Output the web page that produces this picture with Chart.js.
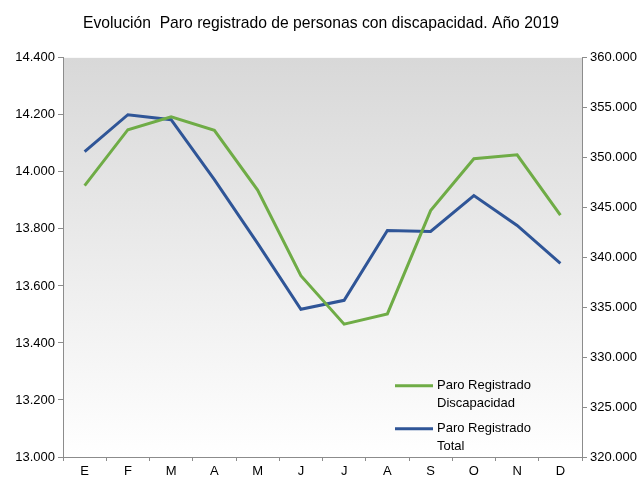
<!DOCTYPE html>
<html>
<head>
<meta charset="utf-8">
<script src="https://cdn.jsdelivr.net/npm/chart.js@4/dist/chart.umd.min.js"></script>
<style>
  html, body { margin: 0; padding: 0; background: #ffffff; }
  #wrap { width: 642px; height: 478px; position: relative; }
</style>
</head>
<body>
<div id="wrap"><canvas id="c" width="642" height="478"></canvas></div>
<script>
const months = ['E','F','M','A','M','J','J','A','S','O','N','D'];
const paroDiscapacidad = [13952, 14148, 14193, 14146, 13936, 13636, 13466, 13502, 13864, 14046, 14060, 13848];
const paroTotal = [350600, 354300, 353800, 347800, 341400, 334800, 335700, 342700, 342600, 346200, 343200, 339400];
const leftTicks = [13000, 13200, 13400, 13600, 13800, 14000, 14200, 14400];
const rightTicks = [320000, 325000, 330000, 335000, 340000, 345000, 350000, 355000, 360000];
const titleText = 'Evolución  Paro registrado de personas con discapacidad. Año 2019';
const legendLabels = [['Paro Registrado', 'Discapacidad'], ['Paro Registrado', 'Total']];

const GREEN = '#6fac46';
const BLUE = '#2f5597';
const AXIS = '#8c8c8c';
const FONT = 'Liberation Sans, Arial, sans-serif';

function fmt(v) {
  return String(Math.round(v)).replace(/\B(?=(\d{3})+(?!\d))/g, '.');
}

const bgPlugin = {
  id: 'plotBg',
  beforeDraw(chart) {
    const a = chart.chartArea, ctx = chart.ctx;
    const g = ctx.createLinearGradient(0, a.top, 0, a.bottom);
    g.addColorStop(0, '#d8d8d8');
    g.addColorStop(1, '#ffffff');
    ctx.save();
    ctx.fillStyle = g;
    ctx.fillRect(a.left, a.top, a.right - a.left, a.bottom - a.top);
    ctx.restore();
  }
};

const legendPlugin = {
  id: 'customLegend',
  afterDatasetsDraw(chart) {
    const a = chart.chartArea, ctx = chart.ctx;
    const colors = [GREEN, BLUE];
    const x0 = a.left + 332, x1 = a.left + 370, tx = a.left + 374;
    const ys = [a.top + 328, a.top + 371];
    ctx.save();
    ctx.font = '13px ' + FONT;
    ctx.textBaseline = 'middle';
    ctx.textAlign = 'left';
    for (let i = 0; i < 2; i++) {
      ctx.strokeStyle = colors[i];
      ctx.lineWidth = 3;
      ctx.beginPath();
      ctx.moveTo(x0, ys[i]);
      ctx.lineTo(x1, ys[i]);
      ctx.stroke();
      ctx.fillStyle = '#000000';
      ctx.fillText(legendLabels[i][0], tx, ys[i]);
      ctx.fillText(legendLabels[i][1], tx, ys[i] + 18);
    }
    ctx.restore();
  }
};

new Chart(document.getElementById('c'), {
  type: 'line',
  data: {
    labels: months,
    datasets: [
      { label: legendLabels[0].join(' '), data: paroDiscapacidad, borderColor: GREEN, backgroundColor: GREEN, borderWidth: 3, pointRadius: 0, tension: 0, yAxisID: 'y' },
      { label: legendLabels[1].join(' '), data: paroTotal, borderColor: BLUE, backgroundColor: BLUE, borderWidth: 3, pointRadius: 0, tension: 0, yAxisID: 'y1' }
    ]
  },
  options: {
    responsive: false,
    animation: false,
    devicePixelRatio: 1,
    layout: { padding: { left: 0, right: 0, top: 0, bottom: 0 } },
    plugins: {
      legend: { display: false },
      tooltip: { enabled: false },
      title: {
        display: true,
        text: titleText,
        color: '#000000',
        font: { family: FONT, size: 15.7, weight: 'normal' },
        padding: { top: 14, bottom: 25 }
      }
    },
    scales: {
      x: {
        offset: true,
        grid: { offset: true, drawOnChartArea: false, drawTicks: true, tickLength: 4, color: AXIS },
        border: { display: true, color: AXIS },
        ticks: { color: '#000000', font: { family: FONT, size: 13 }, padding: 3, maxRotation: 0, autoSkip: false },
        afterFit(s) { s.height = 21; }
      },
      y: {
        position: 'left',
        min: 13000, max: 14400,
        afterBuildTicks(s) { s.ticks = leftTicks.map(v => ({ value: v })); },
        grid: { drawOnChartArea: false, drawTicks: true, tickLength: 5, color: AXIS },
        border: { display: true, color: AXIS },
        ticks: { color: '#000000', font: { family: FONT, size: 13 }, padding: 3, callback: v => fmt(v) },
        afterFit(s) { s.width = 63; }
      },
      y1: {
        position: 'right',
        min: 320000, max: 360000,
        afterBuildTicks(s) { s.ticks = rightTicks.map(v => ({ value: v })); },
        grid: { drawOnChartArea: false, drawTicks: true, tickLength: 5, color: AXIS },
        border: { display: true, color: AXIS },
        ticks: { color: '#000000', font: { family: FONT, size: 13 }, padding: 3, callback: v => fmt(v) },
        afterFit(s) { s.width = 60; }
      }
    }
  },
  plugins: [bgPlugin, legendPlugin]
});
</script>
</body>
</html>
